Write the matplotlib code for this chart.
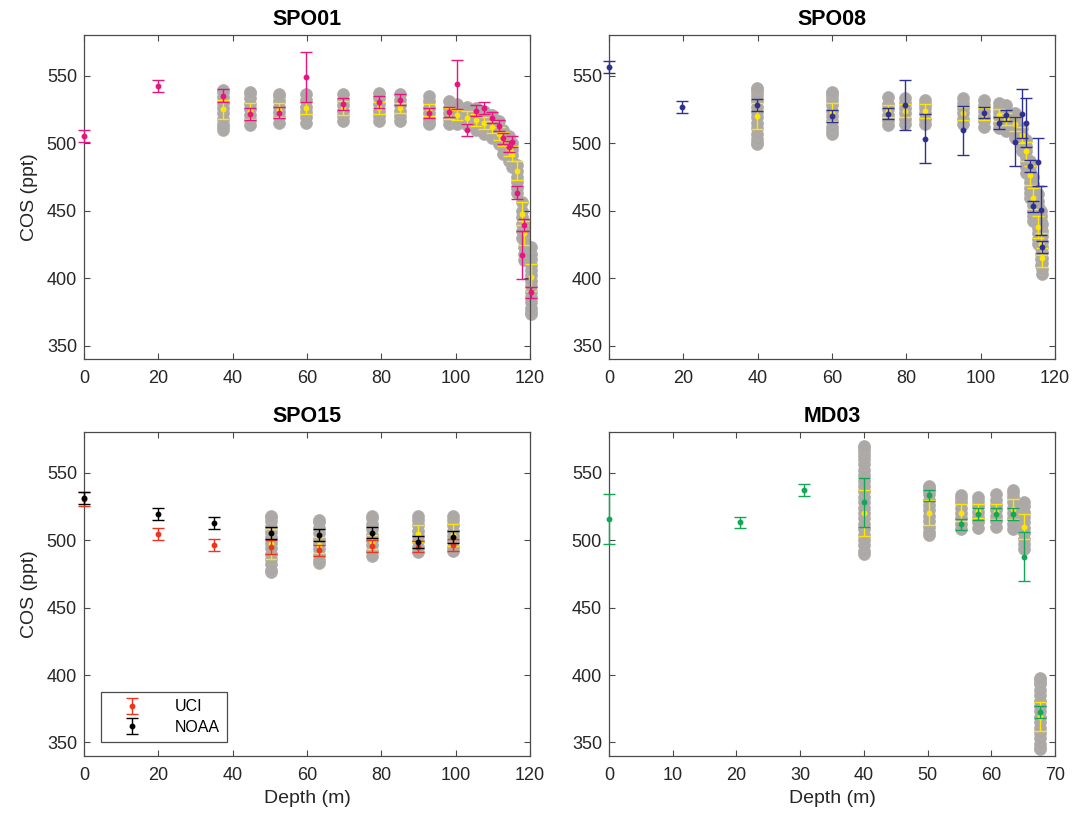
import numpy as np
import matplotlib.pyplot as plt

plt.rcParams['font.family'] = ['Liberation Sans', 'DejaVu Sans']

# ---------------- SPO01 ----------------
spo01_depth = [0, 20, 37.4, 44.6, 52.6, 59.8, 69.7, 79.5, 84.9, 92.8, 98.2, 100.4, 103.1,
               105.5, 107.7, 109.7, 111.6, 112.7, 114.3, 115.2, 116.6, 117.8, 118.5, 120.2]
spo01_cos = [505, 542.5, 535, 521.5, 522.5, 548.8, 529, 530.3, 532, 522.2, 523, 543.4, 509.5,
             524, 525.7, 518.9, 512.7, 503.4, 497.3, 501, 463, 417, 439.5, 389.5]
spo01_err = [4.5, 4.5, 4.7, 4.5, 4.3, 18.5, 4.4, 4.3, 4, 4, 4, 18.3, 4.3,
             4, 4.4, 4, 4, 4, 4, 4, 4.8, 18, 4.3, 4.2]

spo01_mod_depth = [37.4, 44.6, 52.6, 59.8, 69.7, 79.5, 84.9, 92.8, 98.2, 100.4, 103.1, 105.5,
                   107.7, 109.7, 111.6, 112.7, 114.3, 115.2, 116.6, 117.8, 118.5, 120.2]
spo01_mod_mean = [525, 524, 524.5, 526, 526, 526, 526, 524.7, 522, 520.7, 518.9, 516.8,
                  514.6, 512, 507, 503, 496, 492.5, 479.5, 447.6, 433.5, 400.6]
spo01_mod_std = [7, 6, 5.5, 4.5, 5, 4.5, 4, 4.5, 4, 4, 4.5, 4.5,
                 4.5, 4.5, 5, 5, 5.5, 5.5, 7, 8.5, 9, 10]
spo01_ens = [
    [510, 512, 514, 518, 522, 526, 530, 534, 538, 539],
    [513, 517, 521, 525, 529, 533, 537, 538],
    [515, 519, 523, 527, 531, 535, 536],
    [515, 519, 523, 527, 532, 536],
    [516, 520, 524, 528, 532, 536],
    [516, 520, 524, 529, 533, 537],
    [516, 520, 524, 528, 532, 536],
    [514, 515, 518, 522, 526, 531, 535],
    [514, 518, 522, 526, 531],
    [514, 518, 521, 525, 529],
    [513, 517, 520, 524, 527],
    [510, 514, 518, 522, 526],
    [507, 511, 515, 519, 524],
    [504, 508, 512, 516, 521],
    [499, 503, 507, 511, 516],
    [492, 496, 500, 505, 510],
    [487, 491, 495, 500, 505],
    [482, 486, 491, 495, 500],
    [463, 467, 471, 475, 479, 484],
    [430, 435, 440, 445, 450, 456],
    [413, 418, 423, 428, 433, 438, 441],
    [373, 375, 378, 382, 386, 390, 394, 398, 402, 406, 410, 414, 418, 423],
]

# ---------------- SPO08 ----------------
spo08_depth = [0, 19.7, 39.9, 60.1, 75, 79.6, 85.1, 95.2, 100.8, 105, 106.9, 109.3, 111.2,
               112.3, 113.4, 114.2, 115.3, 116.1, 116.4]
spo08_cos = [556.3, 526.7, 528, 520, 521.7, 528, 503.3, 509.5, 522.5, 514.8, 520.4, 501, 521.8,
             515.2, 483, 453.2, 486, 450.2, 423]
spo08_err = [4.2, 4.2, 4.4, 4.5, 4.2, 18.5, 18, 18, 4.3, 4.5, 4.3, 18.2, 18.3,
             18.3, 4.3, 4.2, 17.8, 18, 4.5]

spo08_mod_depth = [39.9, 60.1, 75, 79.6, 85.1, 95.2, 100.8, 105, 106.9, 109.3, 111.2, 112.3,
                   113.4, 114.2, 115.3, 116.1, 116.4]
spo08_mod_mean = [520, 523, 524, 524, 523.7, 522, 521.7, 520.5, 518, 514, 506, 494,
                  476, 459, 438, 425, 415]
spo08_mod_std = [9.5, 6.5, 4.5, 5, 5, 5, 4.5, 4.5, 4.5, 5, 6, 7,
                 7, 8, 8, 8, 7]
spo08_ens = [
    [499, 500, 503, 507, 511, 515, 519, 523, 527, 531, 535, 538, 540, 541],
    [507, 509, 512, 516, 520, 524, 528, 532, 535, 537, 538],
    [513, 517, 521, 525, 529, 534],
    [514, 518, 522, 526, 530, 533],
    [514, 518, 522, 526, 529, 532],
    [514, 518, 522, 526, 530, 533],
    [512, 516, 520, 524, 528, 532],
    [511, 515, 519, 523, 527, 530],
    [509, 513, 517, 521, 525, 528],
    [504, 508, 512, 516, 519, 522],
    [494, 498, 502, 506, 511],
    [478, 482, 486, 490, 494, 498, 502],
    [459, 463, 467, 471, 475, 479, 483, 487],
    [442, 446, 450, 454, 458, 462, 466, 470, 475],
    [425, 429, 433, 437, 441, 445, 449, 453, 457, 462],
    [410, 414, 418, 422, 426, 430, 434, 438, 442, 446, 450],
    [403, 407, 411, 415, 419, 423, 427, 431, 435, 440],
]

# ---------------- SPO15 ----------------
spo15_depth = [0, 20, 35.1, 50.2, 63.2, 77.4, 89.8, 99.4]
spo15_uci = [530.6, 504.3, 496, 495, 492.5, 495.5, 495, 496.3]
spo15_uci_err = [5.2, 4.3, 4.5, 5, 4, 4.3, 4.2, 4.3]
spo15_noaa = [531.3, 519.3, 512.7, 505.3, 503.6, 505.5, 498.6, 502.3]
spo15_noaa_err = [4.4, 4.2, 4.2, 4.6, 4.5, 4.3, 4.2, 4.4]

spo15_mod_depth = [50.2, 63.2, 77.4, 89.8, 99.4]
spo15_mod_mean = [497, 496.5, 498.5, 504.8, 503.5]
spo15_mod_std = [11, 6, 5, 6.2, 8]
spo15_ens = [
    [476, 478, 482, 486, 490, 494, 498, 502, 506, 510, 514, 517, 518],
    [483, 485, 489, 493, 497, 501, 505, 509, 513, 515],
    [488, 492, 496, 500, 504, 508, 512, 516, 517.5],
    [491, 495, 499, 503, 507, 511, 515, 518],
    [491.5, 495, 499, 503, 507, 511, 515, 518],
]

# ---------------- MD03 ----------------
md03_depth = [0, 20.5, 30.6, 40.1, 50.3, 55.2, 57.9, 60.7, 63.4, 65.2, 67.6]
md03_cos = [515.4, 513, 537.2, 528, 533, 511.7, 519.5, 519.5, 519.5, 487.6, 372.6]
md03_err = [18.4, 4.2, 4.6, 18.2, 4.4, 4.1, 4.3, 4.3, 4.3, 18.2, 4.5]

md03_mod_depth = [40.1, 50.3, 55.2, 57.9, 60.7, 63.4, 65.2, 67.6]
md03_mod_mean = [520, 520.3, 520.3, 521.5, 521, 523, 509.7, 369.2]
md03_mod_std = [17, 9, 6.2, 5, 5.5, 7.4, 9.3, 11]
md03_ens = [
    [490, 492, 496, 500, 504, 508, 512, 516, 520, 524, 528, 532, 536, 540,
     544, 548, 552, 556, 560, 563, 566, 568, 570],
    [504, 506, 510, 514, 518, 522, 526, 530, 534, 537, 539, 540],
    [508, 512, 516, 520, 524, 528, 531, 533.5],
    [509, 513, 517, 521, 525, 529, 532],
    [510, 514, 518, 522, 526, 530, 534],
    [508.5, 512, 516, 520, 524, 528, 532, 535, 537],
    [493, 497, 501, 505, 509, 513, 517, 521, 525, 528.5],
    [345, 346, 349, 353, 357, 361, 365, 369, 373, 377, 381, 385, 389, 393, 395, 397, 398],
]

GRAY_FACE = '#aca8a5'
GRAY_EDGE = '#b2aeab'
YELLOW = '#ffe600'
MAGENTA = '#e8147f'
NAVY = '#2e3192'
RED = '#f0321e'
GREEN = '#10a854'
AXCOL = '#4a4a4a'


def draw_model(ax, depth, mean, std, ens):
    for d, vals in zip(depth, ens):
        ax.plot(np.full(len(vals), d), vals, 'o', ms=8.6, mfc=GRAY_FACE, mec=GRAY_EDGE,
                mew=0.5, ls='none', zorder=1, clip_on=False)
    ax.errorbar(depth, mean, yerr=std, fmt='o', ms=3.2, color=YELLOW, ecolor=YELLOW,
                elinewidth=1.0, capsize=4, capthick=1.0, zorder=2, clip_on=False)


def draw_meas(ax, depth, cos, err, color, label=None, z=3):
    return ax.errorbar(depth, cos, yerr=err, fmt='o', ms=3.2, color=color, ecolor=color,
                       elinewidth=1.0, capsize=4, capthick=1.0, zorder=z, clip_on=False,
                       label=label)


def style(ax, title, xmax, xticks):
    ax.set_xlim(0, xmax)
    ax.set_ylim(340, 580)
    ax.set_xticks(xticks)
    ax.set_yticks([350, 400, 450, 500, 550])
    ax.set_title(title, fontsize=15.5, fontweight='bold', pad=7)
    ax.tick_params(direction='in', top=True, right=True, length=4, width=0.8,
                   labelsize=13, colors='#262626')
    ax.tick_params(axis='x', pad=8)
    ax.tick_params(axis='y', pad=5)
    for s in ax.spines.values():
        s.set_color(AXCOL)
        s.set_linewidth(0.9)
    ax.tick_params(color=AXCOL)


fig = plt.figure(figsize=(10.89, 8.15), dpi=100)
ax1 = fig.add_axes([0.0771, 0.5595, 0.4096, 0.3975])
ax2 = fig.add_axes([0.5592, 0.5595, 0.4096, 0.3975])
ax3 = fig.add_axes([0.0771, 0.0724, 0.4096, 0.3975])
ax4 = fig.add_axes([0.5592, 0.0724, 0.4096, 0.3975])

# SPO01
draw_model(ax1, spo01_mod_depth, spo01_mod_mean, spo01_mod_std, spo01_ens)
draw_meas(ax1, spo01_depth, spo01_cos, spo01_err, MAGENTA)
style(ax1, 'SPO01', 120, range(0, 121, 20))
ax1.set_ylabel('COS (ppt)', fontsize=14, labelpad=6, color='#262626')

# SPO08
draw_model(ax2, spo08_mod_depth, spo08_mod_mean, spo08_mod_std, spo08_ens)
draw_meas(ax2, spo08_depth, spo08_cos, spo08_err, NAVY)
style(ax2, 'SPO08', 120, range(0, 121, 20))

# SPO15
draw_model(ax3, spo15_mod_depth, spo15_mod_mean, spo15_mod_std, spo15_ens)
h_uci = draw_meas(ax3, spo15_depth, spo15_uci, spo15_uci_err, RED, 'UCI', z=3)
h_noaa = draw_meas(ax3, spo15_depth, spo15_noaa, spo15_noaa_err, 'black', 'NOAA', z=4)
style(ax3, 'SPO15', 120, range(0, 121, 20))
ax3.set_ylabel('COS (ppt)', fontsize=14, labelpad=6, color='#262626')
ax3.set_xlabel('Depth (m)', fontsize=14, labelpad=4, color='#262626')
leg = ax3.legend(handles=[h_uci, h_noaa], loc='lower left', bbox_to_anchor=(0.038, 0.043),
                 borderaxespad=0, fontsize=11.5, frameon=True, fancybox=False,
                 handlelength=3.0, handletextpad=1.2, borderpad=0.45, labelspacing=0.35)
leg.get_frame().set_edgecolor(AXCOL)
leg.get_frame().set_linewidth(0.9)
leg.get_frame().set_alpha(1)

# MD03
draw_model(ax4, md03_mod_depth, md03_mod_mean, md03_mod_std, md03_ens)
draw_meas(ax4, md03_depth, md03_cos, md03_err, GREEN)
style(ax4, 'MD03', 70, range(0, 71, 10))
ax4.set_xlabel('Depth (m)', fontsize=14, labelpad=4, color='#262626')

fig.savefig('out.png', dpi=100)
